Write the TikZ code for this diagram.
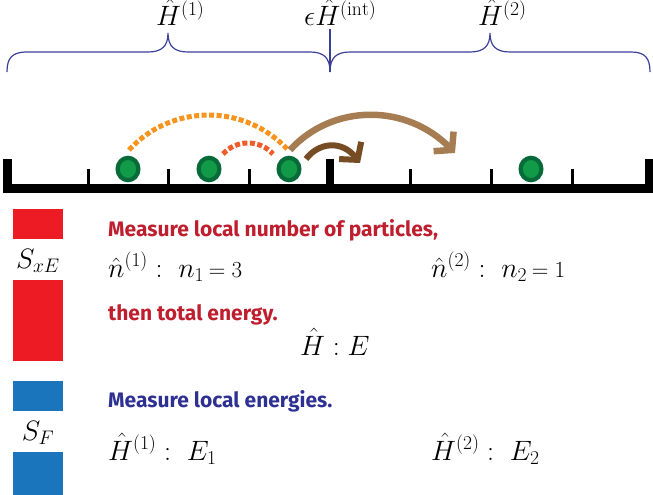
\documentclass[tikz,border=0pt]{standalone}
\usepackage{fix-cm}
\usepackage{fontspec}
\newfontfamily\hsans{Fira Sans}
\usetikzlibrary{arrows.meta,shapes.geometric}
\definecolor{bracec}{HTML}{3A3F98}
\definecolor{redtxt}{HTML}{BE1E2D}
\definecolor{bluetxt}{HTML}{2E3192}
\definecolor{redbox}{HTML}{ED1C24}
\definecolor{bluebox}{HTML}{1B75BC}
\definecolor{gdark}{HTML}{066B38}
\definecolor{glight}{HTML}{119A47}
\definecolor{orangec}{HTML}{F7941D}
\definecolor{redorange}{HTML}{F15A29}
\definecolor{tanc}{HTML}{A67C52}
\definecolor{brownc}{HTML}{754C24}
\newcommand{\smallrel}[1]{\mbox{\fontsize{23}{26}\selectfont$#1$}}
\tikzset{
  mth/.style={font=\fontsize{28}{32}\selectfont, inner sep=0pt, anchor=base west},
  lbl/.style={font=\fontsize{28}{32}\selectfont, inner sep=0pt, anchor=base},
  head/.style={font=\hsans\bfseries\fontsize{21}{25}\selectfont, inner sep=0pt, anchor=base west},
  particle/.style={ellipse, draw=gdark, fill=glight, line width=4.2pt, minimum width=20.8pt, minimum height=22.4pt, inner sep=0pt},
  bracestyle/.style={draw=bracec, line width=1.2pt},
  hopdash/.style={line width=5pt, dash pattern=on 5pt off 2.5pt},
  hoparrow/.style={line width=6.5pt, -{Straight Barb[length=12pt,width=28pt,line cap=butt,line join=miter]}},
}
\begin{document}
\begin{tikzpicture}[x=1pt,y=-1pt]
\useasboundingbox (0,0) rectangle (653,495);
% braces
\path[bracestyle] (7,72) .. controls (7,58) and (12,52) .. (27,52) -- (148,52)
  .. controls (162,52) and (168,46) .. (168,33)
  .. controls (168,46) and (174,52) .. (188,52) -- (310,52)
  .. controls (324,52) and (330,58) .. (330,72);
\path[bracestyle] (330,72) .. controls (330,58) and (336,52) .. (350,52) -- (470,52)
  .. controls (484,52) and (490,46) .. (490,33)
  .. controls (490,46) and (496,52) .. (510,52) -- (631,52)
  .. controls (645,52) and (650,58) .. (650,72);
\coordinate (cb) at (330,72);
\node[mth] (h1) at (156,26) {$\hat{H}^{(1)}$};
\node[mth] (hint) at (304,26) {$\epsilon\hat{H}^{(\mathrm{int})}$};
\node[mth] (h2) at (478,26) {$\hat{H}^{(2)}$};
\draw[bracestyle] (330,29) -- (cb);
% ruler
\fill (3,184) rectangle (653,193);
\fill (3,159) rectangle (12,193);
\fill (326,159) rectangle (334,193);
\fill (645,159) rectangle (653,193);
\foreach \x in {88,168,249,410,491,572} \fill (\x-1.5,169) rectangle (\x+1.5,193);
% particles
\node[particle] (p1) at (128,169) {};
\node[particle] (p2) at (209,169) {};
\node[particle] (p3) at (289,169) {};
\node[particle] (p4) at (531,169) {};
% hops
\coordinate (a1) at (129,150);
\coordinate (a2) at (288,150);
\draw[hopdash, orangec] (a1) .. controls (171.7,103.4) and (245.3,103.4) .. (a2);
\coordinate (b1) at (223,154);
\coordinate (b2) at (273,154);
\draw[hopdash, redorange] (b1) .. controls (236.4,139.3) and (259.6,139.3) .. (b2);
\coordinate (c1) at (290,150);
\coordinate (c2) at (455,153);
\draw[hoparrow, tanc] (c1) .. controls (332.7,103.4) and (406.3,103.4) .. (c2);
\coordinate (d1) at (306,159);
\coordinate (d2) at (360,163);
\draw[hoparrow, brownc, line width=6pt] (d1) .. controls (319,142) and (342,140) .. (d2);
% left boxes
\fill[redbox] (13,209) rectangle (63,239);
\fill[redbox] (13,280) rectangle (63,361);
\fill[bluebox] (13,381) rectangle (63,411);
\fill[bluebox] (13,452) rectangle (63,495);
\node[lbl] (sxe) at (38,268) {$S_{xE}$};
\node[lbl] (sf) at (38,440) {$S_F$};
% texts
\node[head, text=redtxt] (t1) at (108,236) {Measure local number of particles,};
\node[mth] (n1) at (108,277) {$\hat{n}^{(1)}:\; n_1\,\smallrel{=3}$};
\node[mth] (n2) at (431,277) {$\hat{n}^{(2)}:\; n_2\,\smallrel{=1}$};
\node[head, text=redtxt] (t2) at (108,320) {then total energy.};
\node[mth] (he) at (300,355) {$\hat{H}: E$};
\node[head, text=bluetxt] (t3) at (108,407) {Measure local energies.};
\node[mth] (e1) at (108,460) {$\hat{H}^{(1)}:\; E_1$};
\node[mth] (e2) at (431,460) {$\hat{H}^{(2)}:\; E_2$};
\end{tikzpicture}
\end{document}
